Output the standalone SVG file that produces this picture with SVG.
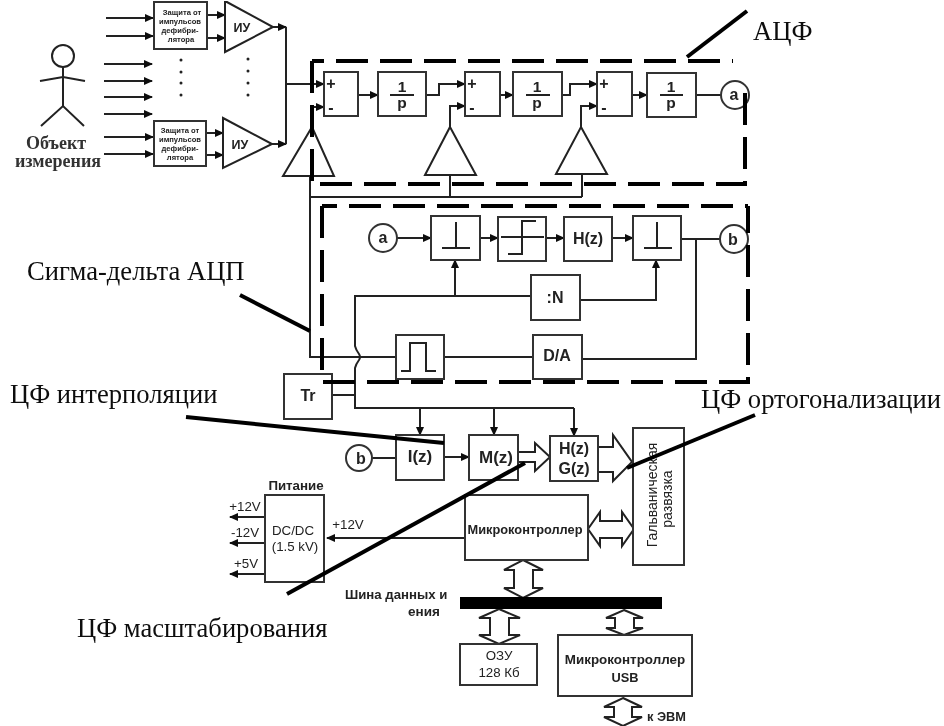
<svg xmlns="http://www.w3.org/2000/svg" width="944" height="726" viewBox="0 0 944 726">
<defs>
<marker id="ah" markerUnits="userSpaceOnUse" markerWidth="9" markerHeight="8" refX="8" refY="4" orient="auto"><path d="M0 0L9 4L0 8Z" fill="#111"/></marker>
<filter id="soft" x="0" y="0" width="1" height="1"><feGaussianBlur stdDeviation="0.4"/></filter>
</defs>
<style>
.b{fill:#fff;stroke:#333;stroke-width:2}
.t{fill:#fff;stroke:#222;stroke-width:2}
.c{fill:none;stroke:#222;stroke-width:2}
.a{fill:none;stroke:#222;stroke-width:2;marker-end:url(#ah)}
.d{fill:none;stroke:#000;stroke-width:4;stroke-dasharray:32 12}
.l{fill:none;stroke:#000;stroke-width:4}
.w{fill:#fff;stroke:#222;stroke-width:2;stroke-linejoin:miter}
text{font-family:"Liberation Sans",Arial,sans-serif;fill:#222}
.s{font-weight:bold;font-size:7.6px;text-anchor:middle}
.m{font-weight:bold;font-size:15.5px;text-anchor:middle}
.f{font-weight:bold;font-size:16px;text-anchor:middle}
.z{font-weight:bold;font-size:17px;text-anchor:middle}
.n{font-size:13.3px;text-anchor:middle}
.u{font-weight:bold;font-size:12.8px;text-anchor:middle}
.h{font-family:"Liberation Serif","Times New Roman",serif;font-size:26.6px;fill:#111}
.o{font-family:"Liberation Serif","Times New Roman",serif;font-weight:bold;font-size:18px;text-anchor:middle;fill:#333}
</style>
<rect width="944" height="726" fill="#fff"/>
<g filter="url(#soft)">
<g id="connectors">
<path class="a" d="M106 18H153"/><path class="a" d="M106 36H153"/>
<path class="a" d="M104 64H152"/><path class="a" d="M104 81H152"/><path class="a" d="M104 97H152"/><path class="a" d="M104 114H152"/>
<path class="a" d="M104 137H153"/><path class="a" d="M104 154H153"/>
<path class="a" d="M207 15H225"/><path class="a" d="M207 38H225"/>
<path class="a" d="M206 133H223"/><path class="a" d="M206 155H223"/>
<path class="a" d="M273 27H286"/><path class="a" d="M272 144H286"/>
<path class="c" d="M286 27V144"/>
<path class="a" d="M286 84H324"/>
<path class="a" d="M312 107H324"/>
<path class="a" d="M358 95H378"/>
<path class="a" d="M426 95H439V84H465"/>
<path class="a" d="M450 127V106H465"/>
<path class="a" d="M500 95H513"/>
<path class="a" d="M562 95H570V84H597"/>
<path class="a" d="M581 127V106H597"/>
<path class="a" d="M632 95H647"/>
<path class="c" d="M696 95H722"/>
<path class="c" d="M450 175V197M582 174V197M310 197H582"/>
<path class="c" d="M310 176V357H396"/>
<path class="a" d="M397 238H431"/>
<path class="a" d="M480 238H498"/>
<path class="a" d="M546 238H564"/>
<path class="a" d="M612 238H633"/>
<path class="c" d="M681 239H720"/>
<path class="c" d="M696 239V359H582"/>
<path class="c" d="M444 357H533"/>
<path class="c" d="M531 296H355V346Q356 350 359 354Q361 357 359 360Q356 364 355 368V408H574"/>
<path class="a" d="M455 296V260"/>
<path class="a" d="M580 300H656V260"/>
<path class="c" d="M332 382H355M332 395H355"/>
<path class="a" d="M420 408V435"/>
<path class="a" d="M494 408V435"/>
<path class="a" d="M574 408V436"/>
<path class="c" d="M372 458H396"/>
<path class="a" d="M444 457H469"/>
<path class="w" d="M518 452H535V443L550 457L535 471V462H518Z"/>
<path class="w" d="M598 447H613V435L632 462L613 481V472H598Z"/>
<path class="a" d="M465 538H327"/>
<path class="a" d="M265 517H230"/>
<path class="a" d="M265 543H230"/>
<path class="a" d="M265 574H230"/>
<path class="w" d="M588 529L600 512V521H622V512L634 529L622 546V538H600V546Z"/>
<path class="w" d="M523 560L543 570H533V588H543L523 598L504 588H514V570H504Z"/>
<path class="w" d="M499 609L520 618H509V635H520L499 644L479 635H490V618H479Z"/>
<path class="w" d="M624 610L643 618H634V628H643L624 635L606 628H615V618H606Z"/>
<path class="w" d="M623 698L642 707H632V717H642L623 726L604 717H614V707H604Z"/>
</g>

<g id="object">
<circle class="c" cx="63" cy="56" r="11"/>
<path class="c" d="M63 67V106M40 81L63 77L85 81M41 126L63 106L84 126"/>
<text class="o" x="56" y="149">Объект</text>
<text class="o" x="58" y="167">измерения</text>
</g>
<g id="protect1"><rect class="b" x="154" y="2" width="53" height="47"/>
<text class="s" x="182" y="15">Защита от</text><text class="s" x="180" y="24">импульсов</text><text class="s" x="180" y="33">дефибри-</text><text class="s" x="181" y="42">лятора</text></g>
<g id="protect2"><rect class="b" x="154" y="121" width="52" height="45"/>
<text class="s" x="180" y="133">Защита от</text><text class="s" x="180" y="142">импульсов</text><text class="s" x="180" y="151">дефибри-</text><text class="s" x="180" y="160">лятора</text></g>
<g id="amp1"><path class="t" d="M225 1L273 27L225 52Z"/><text class="f" x="242" y="32" style="font-size:12.5px">ИУ</text></g>
<g id="amp2"><path class="t" d="M223 118L272 144L223 168Z"/><text class="f" x="240" y="149" style="font-size:12.5px">ИУ</text></g>
<g id="dots" fill="#222">
<circle cx="181" cy="60" r="1.5"/><circle cx="181" cy="72" r="1.5"/><circle cx="181" cy="83" r="1.5"/><circle cx="181" cy="95" r="1.5"/>
<circle cx="248" cy="59" r="1.5"/><circle cx="248" cy="71" r="1.5"/><circle cx="248" cy="83" r="1.5"/><circle cx="248" cy="95" r="1.5"/>
</g>

<g id="sum1"><rect class="b" x="324" y="72" width="34" height="44"/><text class="f" x="331" y="89">+</text><text class="f" x="331" y="113">-</text></g>
<g id="sum2"><rect class="b" x="465" y="72" width="35" height="44"/><text class="f" x="472" y="89">+</text><text class="f" x="472" y="113">-</text></g>
<g id="sum3"><rect class="b" x="597" y="72" width="35" height="44"/><text class="f" x="604" y="89">+</text><text class="f" x="604" y="113">-</text></g>
<g id="int1"><rect class="b" x="378" y="72" width="48" height="44"/><text class="m" x="402" y="92">1</text><path class="c" d="M390 95H414"/><text class="m" x="402" y="108">p</text></g>
<g id="int2"><rect class="b" x="513" y="72" width="49" height="44"/><text class="m" x="537" y="92">1</text><path class="c" d="M526 95H550"/><text class="m" x="537" y="108">p</text></g>
<g id="int3"><rect class="b" x="647" y="73" width="49" height="44"/><text class="m" x="671" y="92">1</text><path class="c" d="M660 95H683"/><text class="m" x="671" y="108">p</text></g>
<g id="node-a1"><circle class="b" cx="735" cy="95" r="14"/><text class="f" x="734" y="100">a</text></g>
<g id="fb1"><path class="t" d="M312 127L334 176H283Z"/></g>
<g id="fb2"><path class="t" d="M450 127L476 175H425Z"/></g>
<g id="fb3"><path class="t" d="M581 127L607 174H556Z"/></g>

<g id="node-a2"><circle class="b" cx="383" cy="238" r="14"/><text class="f" x="383" y="243">a</text></g>
<g id="sample1"><rect class="b" x="431" y="216" width="49" height="44"/><path class="c" d="M456 222V248M442 248H470"/></g>
<g id="quant"><rect class="b" x="498" y="217" width="48" height="44"/><path class="c" d="M501 237H544M508 254H522V221H536"/></g>
<g id="hz"><rect class="b" x="564" y="217" width="48" height="44"/><text class="f" x="588" y="244">H(z)</text></g>
<g id="sample2"><rect class="b" x="633" y="216" width="48" height="44"/><path class="c" d="M657 222V248M644 248H672"/></g>
<g id="node-b1"><circle class="b" cx="734" cy="239" r="14"/><text class="f" x="733" y="245">b</text></g>
<g id="div"><rect class="b" x="531" y="275" width="49" height="45"/><text class="f" x="555" y="303">:N</text></g>
<g id="pulse"><rect class="b" x="396" y="335" width="48" height="44"/><path class="c" d="M401 371H410V343H426V371H436"/></g>
<g id="da"><rect class="b" x="533" y="335" width="49" height="44"/><text class="f" x="557" y="361">D/A</text></g>
<g id="tr"><rect class="b" x="284" y="374" width="48" height="45"/><text class="f" x="308" y="401">Tr</text></g>
<g id="node-b2"><circle class="b" cx="359" cy="458" r="13"/><text class="f" x="361" y="464">b</text></g>
<g id="iz"><rect class="b" x="396" y="435" width="48" height="45"/><text class="z" x="420" y="462">I(z)</text></g>
<g id="mz"><rect class="b" x="469" y="435" width="49" height="45"/><text class="z" x="496" y="463">M(z)</text></g>
<g id="hg"><rect class="b" x="550" y="436" width="48" height="45"/><text class="z" x="574" y="454" style="font-size:16px">H(z)</text><text class="z" x="574" y="474" style="font-size:16px">G(z)</text></g>
<g id="galv"><rect class="b" x="633" y="428" width="51" height="137"/>
<text class="n" transform="translate(657 495) rotate(-90)" style="font-size:14px">Гальваническая</text>
<text class="n" transform="translate(672 499) rotate(-90)" style="font-size:14px">развязка</text></g>
<g id="psu"><rect class="b" x="265" y="495" width="59" height="87"/>
<text class="n" x="296" y="490" style="font-weight:bold">Питание</text>
<text class="n" x="293" y="535">DC/DC</text><text class="n" x="295" y="551">(1.5 kV)</text>
<text class="n" x="245" y="511">+12V</text><text class="n" x="245" y="537">-12V</text><text class="n" x="246" y="568">+5V</text>
<text class="n" x="348" y="529">+12V</text></g>
<g id="mcu"><rect class="b" x="465" y="495" width="123" height="65"/><text class="u" x="525" y="534">Микроконтроллер</text></g>
<g id="bus"><rect x="460" y="597" width="202" height="12" fill="#000"/>
<text x="345" y="599" style="font-weight:bold;font-size:13.2px">Шина данных и</text><text x="408" y="616" style="font-weight:bold;font-size:13.5px">ения</text></g>
<g id="ram"><rect class="b" x="460" y="644" width="77" height="41"/><text class="n" x="499" y="660">ОЗУ</text><text class="n" x="499" y="677">128 Кб</text></g>
<g id="usb"><rect class="b" x="558" y="635" width="134" height="61"/><text class="u" x="625" y="664" style="font-size:13.4px">Микроконтроллер</text><text class="u" x="625" y="682">USB</text></g>
<text x="647" y="721" style="font-weight:bold;font-size:12.8px">к ЭВМ</text>

<g id="dashes">
<path class="d" d="M312 61H733" stroke-dashoffset="20"/>
<path class="d" d="M312 61V181"/>
<path class="d" d="M745 93V184"/>
<path class="d" d="M320 184H747"/>
<path class="d" d="M322 206H748" stroke-dashoffset="17"/>
<path class="d" d="M322 206V370"/>
<path class="d" d="M748 206V382" stroke-dashoffset="5"/>
<path class="d" d="M323 382H750"/>
</g>

<g id="callouts">
<path class="l" d="M687 57L747 11"/>
<text class="h" x="753" y="40">АЦФ</text>
<path class="l" d="M240 295L310 331"/>
<text class="h" x="27" y="280">Сигма-дельта АЦП</text>
<path class="l" d="M186 417L444 443"/>
<text class="h" x="10" y="403">ЦФ интерполяции</text>
<path class="l" d="M755 415L627 468"/>
<text class="h" x="701" y="408">ЦФ ортогонализации</text>
<path class="l" d="M287 594L525 463"/>
<text class="h" x="77" y="637">ЦФ масштабирования</text>
</g>
</g>
</svg>
